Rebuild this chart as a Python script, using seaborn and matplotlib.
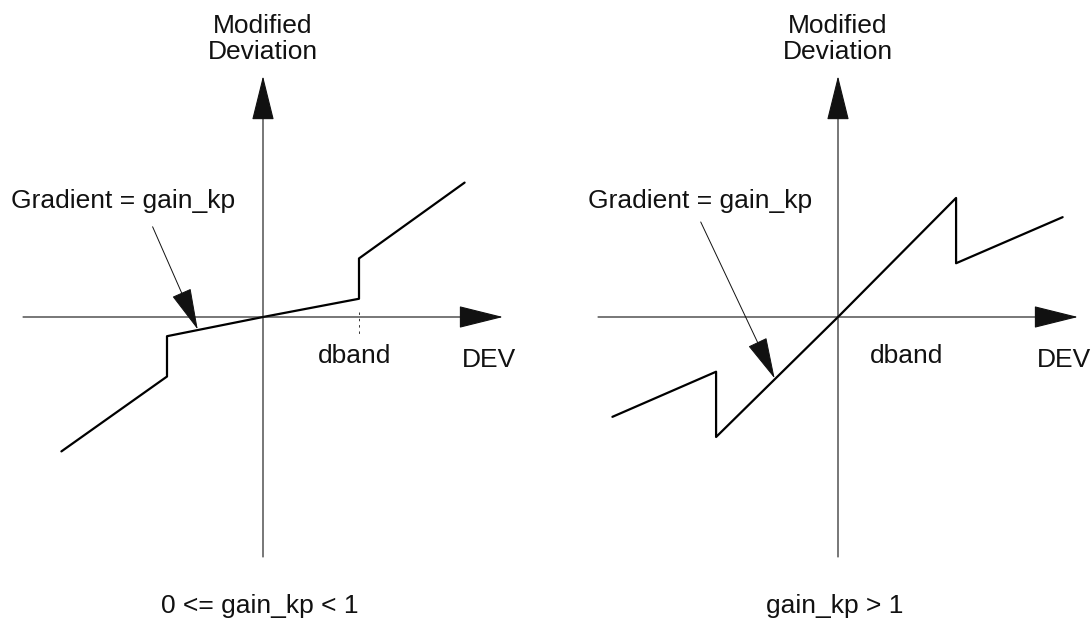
import numpy as np
import pandas as pd
import matplotlib
matplotlib.use('Agg')
import matplotlib.pyplot as plt
import seaborn as sns

# Transfer characteristic of the deadband (values in units of dband)
dev_low = [-2.1, -1.0, -1.0, 0.0, 1.0, 1.0, 2.1]
mod_low = [-1.4, -0.62, -0.2, 0.0, 0.19, 0.61, 1.4]

dev_high = [-2.35, -1.27, -1.27, 0.0, 1.23, 1.23, 2.34]
mod_high = [-1.04, -0.57, -1.25, 0.0, 1.24, 0.56, 1.04]

captions = ['0 <= gain_kp < 1', 'gain_kp > 1']
y_label = 'Modified\nDeviation'
x_label = 'DEV'
band_label = 'dband'
grad_label = 'Gradient = gain_kp'

# arrow start / tip of the "Gradient" pointer, per panel
grad_from = [(-1.15, 0.94), (-1.43, 0.99)]
grad_to = [(-0.68, -0.13), (-0.66, -0.64)]

df = pd.concat([
    pd.DataFrame({'dev': dev_low, 'mod': mod_low, 'case': 'low'}),
    pd.DataFrame({'dev': dev_high, 'mod': mod_high, 'case': 'high'}),
])

sns.set_theme(style='white')
plt.rcParams['font.family'] = ['Liberation Sans', 'DejaVu Sans']

W, H = 1092, 624
UNIT = 96.0          # pixels per data unit
origins = [(263, 317), (838, 317)]
boxes = [(0, 546), (546, 1092)]
EXT = 2.5            # half length of the drawn axes

fig = plt.figure(figsize=(W / 100, H / 100), dpi=100)

axis_arrow = dict(arrowstyle='-|>,head_length=1.45,head_width=0.36',
                  mutation_scale=20, lw=0.8, color='#111111',
                  shrinkA=0, shrinkB=0)
grad_arrow = dict(arrowstyle='-|>,head_length=1.35,head_width=0.33',
                  mutation_scale=20, lw=0.7, color='#111111',
                  shrinkA=0, shrinkB=0)

for i, case in enumerate(['low', 'high']):
    x0, x1 = boxes[i]
    ox, oy = origins[i]
    ax = fig.add_axes([x0 / W, 0, (x1 - x0) / W, 1])
    ax.set_xlim(-(ox - x0) / UNIT, (x1 - ox) / UNIT)
    ax.set_ylim(-(H - oy) / UNIT, oy / UNIT)
    ax.axis('off')

    # coordinate axes with arrow heads
    ax.annotate('', xy=(EXT, 0), xytext=(-EXT, 0), arrowprops=axis_arrow)
    ax.annotate('', xy=(0, EXT + 0.01), xytext=(0, -EXT), arrowprops=axis_arrow)

    sns.lineplot(data=df[df['case'] == case], x='dev', y='mod',
                 estimator=None, sort=False, color='black', lw=1.6,
                 ax=ax, legend=False)

    if i == 0:
        ax.plot([1.0, 1.0], [0.05, -0.21], color='#333333', lw=0.7,
                ls=(0, (2.5, 4)))

    ax.annotate('', xy=grad_to[i], xytext=grad_from[i], arrowprops=grad_arrow)

    fs = 19
    ax.text(0, (oy - 64) / UNIT, y_label, ha='center', va='bottom',
            fontsize=fs, linespacing=1.12, color='#111111')
    ax.text((11 + 577 * i - ox) / UNIT, (oy - 208) / UNIT,
            grad_label, ha='left', va='baseline', fontsize=fs, color='#111111')
    band_x = [0.95, 0.71][i]
    ax.text(band_x, (oy - 363) / UNIT, band_label, ha='center', va='baseline',
            fontsize=fs, color='#111111')
    ax.text(2.07, (oy - 367) / UNIT, x_label, ha='left', va='baseline',
            fontsize=fs, color='#111111')
    ax.text(-0.03, (oy - 613) / UNIT, captions[i], ha='center', va='baseline',
            fontsize=fs, color='#111111')

fig.savefig('out.png', dpi=100)
